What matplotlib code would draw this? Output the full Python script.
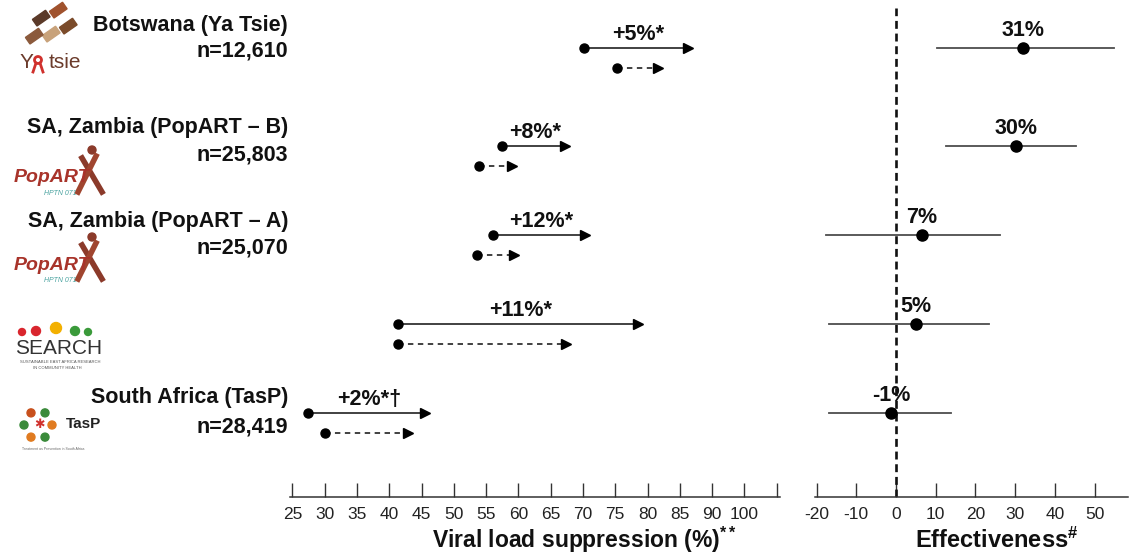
import numpy as np
import matplotlib.pyplot as plt
from matplotlib.patches import Rectangle, Circle
from matplotlib.lines import Line2D
from matplotlib.transforms import IdentityTransform

plt.rcParams['font.family'] = ['Liberation Sans', 'DejaVu Sans']
plt.rcParams['mathtext.fontset'] = 'custom'
plt.rcParams['mathtext.rm'] = 'Liberation Sans'
plt.rcParams['mathtext.default'] = 'regular'
plt.rcParams['axes.unicode_minus'] = False

# data
studies = ['Botswana (Ya Tsie)', 'SA, Zambia (PopART – B)', 'SA, Zambia (PopART – A)',
           '', 'South Africa (TasP)']
n_labels = ['n=12,610', 'n=25,803', 'n=25,070', '', 'n=28,419']

# viral load suppression, solid = intervention, dashed = control
vls_int_start = [70.2, 57.4, 56.0, 41.4, 27.5]
vls_int_end = [87.0, 67.9, 71.1, 79.2, 46.3]
vls_ctl_start = [75.3, 53.9, 53.6, 41.4, 30.0]
vls_ctl_end = [82.3, 59.8, 60.1, 68.1, 43.6]
diff_labels = ['+5%*', '+8%*', '+12%*', '+11%*', '+2%*†']

eff = [31.9, 30.2, 6.5, 5.0, -1.3]
eff_lo = [10.2, 12.5, -17.6, -16.9, -16.9]
eff_hi = [54.9, 45.3, 26.2, 23.4, 13.8]
eff_labels = ['31%', '30%', '7%', '5%', '-1%']

vls_ticks = [25, 30, 35, 40, 45, 50, 55, 60, 65, 70, 75, 80, 85, 90, 95, 100]
vls_ticklabels = ['25', '30', '35', '40', '45', '50', '55', '60', '65', '70',
                  '75', '80', '85', '90', '100', '']
eff_ticks = [-20, -10, 0, 10, 20, 30, 40, 50]

# layout
row_y = [0.0, 1.1, 2.1, 3.1, 4.1]
ctl_off = 0.225
W, H = 1130, 554

def P(x, y):
    return (x, H - y)

fig = plt.figure(figsize=(W / 100, H / 100), dpi=100)
ax = fig.add_axes([290 / W, 57 / H, 490 / W, 497 / H])
ax2 = fig.add_axes([815 / W, 57 / H, 313 / W, 497 / H])

for a in (ax, ax2):
    for s in ('top', 'left', 'right'):
        a.spines[s].set_visible(False)
    a.spines['bottom'].set_linewidth(1.1)
    a.spines['bottom'].set_color('#333333')
    a.set_yticks([])
    a.tick_params(axis='x', direction='in', length=10, width=1.0, color='#333333',
                  labelsize=12.5, pad=7, labelcolor='#222222')
    a.set_ylim(5.045, -0.54)
    a.patch.set_alpha(0)

def arrow(x0, x1, y, ls):
    head = 0.75
    ax.plot([x0, x1 - 1.0], [y, y], color='#333333', lw=1.3, ls=ls,
            dashes=(3, 2.5) if ls == '--' else (None, None))
    ax.plot(x1 - head, y, marker='>', ms=7, color='black', mec='black')
    ax.plot(x0, y, 'o', ms=6.5, color='black')

for i, y in enumerate(row_y):
    arrow(vls_int_start[i], vls_int_end[i], y, '-')
    arrow(vls_ctl_start[i], vls_ctl_end[i], y + ctl_off, '--')
    xm = (vls_int_start[i] + vls_int_end[i]) / 2
    ax.annotate(diff_labels[i], (xm, y), xytext=(0, 9.5), textcoords='offset points',
                ha='center', va='center', fontsize=15.5, fontweight='bold', color='#111111')

ax.set_xlim(24.64, 100.5)
ax.set_xticks(vls_ticks)
ax.set_xticklabels(vls_ticklabels)

# effectiveness panel
ax2.axvline(0, ymin=0, ymax=0.984, color='#111111', lw=1.9, dashes=(3, 1.8))
for i, y in enumerate(row_y):
    ax2.plot([eff_lo[i], eff_hi[i]], [y, y], color='#4d4d4d', lw=1.3)
    ax2.plot(eff[i], y, 'o', ms=8, color='black')
    ax2.annotate(eff_labels[i], (eff[i], y), xytext=(0, 12.5), textcoords='offset points',
                 ha='center', va='center', fontsize=15.5, fontweight='bold', color='#111111')
ax2.set_xlim(-20.4, 58.4)
ax2.set_xticks(eff_ticks)

fig.text(585 / W, 1 - 540 / H, r'Viral load suppression (%)$^{**}$', ha='center', va='center',
         fontsize=16.5, fontweight='bold', color='#111111')
fig.text(997 / W, 1 - 540 / H, r'Effectiveness$^{\#}$', ha='center', va='center',
         fontsize=17, fontweight='bold', color='#111111')

# study labels
name_y = [25, 128, 222, 0, 398]
n_y = [51, 155, 248, 0, 427]
for i in range(len(studies)):
    if not studies[i]:
        continue
    fig.text(288 / W, 1 - name_y[i] / H, studies[i], ha='right', va='center',
             fontsize=15.5, fontweight='bold', color='#111111')
    fig.text(288 / W, 1 - n_y[i] / H, n_labels[i], ha='right', va='center',
             fontsize=15.5, fontweight='bold', color='#111111')

# rough logos
tr = IdentityTransform()
# Ya Tsie hands
for (cx, cy, c) in [(45, 22, '#5b3a29'), (62, 14, '#a0522d'), (72, 30, '#7b4b2a'),
                    (55, 38, '#c8a27a'), (38, 40, '#8b5a3c')]:
    fig.add_artist(Rectangle(P(cx - 8, cy + 4), 16, 8, angle=35, color=c, transform=tr))
fig.text(20 / W, 1 - 62 / H, 'Y', color='#6b3b2b', fontsize=15, va='center')
# little red ribbon instead of the "a"
fig.add_artist(Circle(P(38, 60), 3.5, fill=False, ec='#d0312d', lw=2, transform=tr))
fig.add_artist(Line2D([P(36, 63)[0], P(33, 72)[0]], [P(36, 63)[1], P(33, 72)[1]],
                      color='#d0312d', lw=2, transform=tr))
fig.add_artist(Line2D([P(40, 63)[0], P(43, 72)[0]], [P(40, 63)[1], P(43, 72)[1]],
                      color='#d0312d', lw=2, transform=tr))
fig.text(49 / W, 1 - 62 / H, 'tsie', color='#6b3b2b', fontsize=15, va='center')

# PopART logos
for yc in (178, 265):
    fig.text(14 / W, 1 - yc / H, 'PopART', color='#a8332a', fontsize=14, fontweight='bold',
             style='italic', va='center')
    fig.text(44 / W, 1 - (yc + 15) / H, 'HPTN 071', color='#4aa3a0', fontsize=5,
             style='italic', va='center')
    fig.add_artist(Line2D([P(82, yc - 20)[0], P(102, yc + 14)[0]],
                          [P(82, yc - 20)[1], P(102, yc + 14)[1]],
                          color='#8b3a2a', lw=4, transform=tr))
    fig.add_artist(Line2D([P(96, yc - 22)[0], P(78, yc + 14)[0]],
                          [P(96, yc - 22)[1], P(78, yc + 14)[1]],
                          color='#a0452f', lw=4, transform=tr))
    fig.add_artist(Circle(P(92, yc - 28), 4, color='#8b3a2a', transform=tr))

# SEARCH logo
for (cx, cy, r, c) in [(22, 332, 3.5, '#d9262e'), (36, 331, 4.5, '#d9262e'),
                       (56, 328, 5.5, '#f3b000'), (75, 331, 4.5, '#3a9a3a'),
                       (88, 332, 3.5, '#3a9a3a')]:
    fig.add_artist(Circle(P(cx, cy), r, color=c, transform=tr))
fig.text(15 / W, 1 - 349 / H, 'SEARCH', color='#333333', fontsize=15, va='center')
fig.text(20 / W, 1 - 362 / H, 'SUSTAINABLE EAST AFRICA RESEARCH', color='#555555',
         fontsize=3, va='center')
fig.text(33 / W, 1 - 368 / H, 'IN COMMUNITY HEALTH', color='#555555', fontsize=3, va='center')

# TasP logo
ang = np.linspace(0, 2 * np.pi, 7)[:-1]
cols = ['#e07b20', '#3a8a3a', '#e07b20', '#3a8a3a', '#c8501c', '#3a8a3a']
for a_, c in zip(ang, cols):
    fig.add_artist(Circle(P(38 + 14 * np.cos(a_), 425 + 14 * np.sin(a_)), 4, color=c,
                          transform=tr))
fig.text(34 / W, 1 - 425 / H, '✱', color='#d0312d', fontsize=9, va='center')
fig.text(66 / W, 1 - 424 / H, 'TasP', color='#222222', fontsize=11, fontweight='bold',
         va='center')
fig.text(22 / W, 1 - 449 / H, 'Treatment as Prevention in South Africa', color='#666666',
         fontsize=2.5, va='center')

plt.savefig('out.png', dpi=100)
